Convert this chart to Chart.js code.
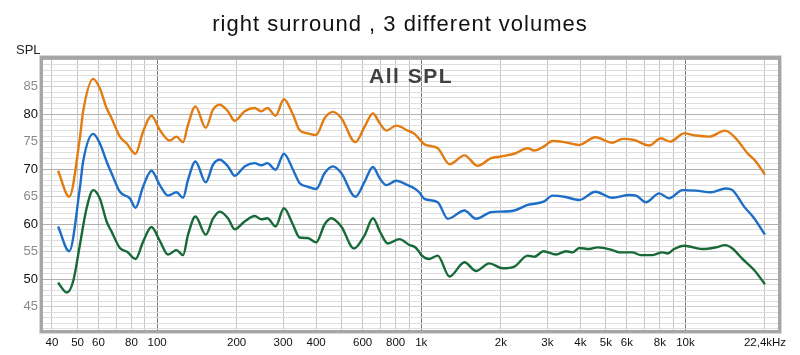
<!DOCTYPE html>
<html>
<head>
<meta charset="utf-8">
<script src="https://cdn.jsdelivr.net/npm/chart.js@4/dist/chart.umd.min.js"></script>
<style>
html,body{margin:0;padding:0;background:#fff;}
#wrap{width:800px;height:355px;}
</style>
</head>
<body>
<div id="wrap"><canvas id="c" width="800" height="355"></canvas></div>
<script>
// ---- Data (frequency in Hz, SPL in dB) ----
const titleText = "right surround , 3 different volumes";
const yAxisName = "SPL";
const plotLabel = "All SPL";

const freqOrange = [42.2,46.5,51,52.5,57.3,60.7,64.4,67.2,72.3,76.6,82.9,88.5,95.2,102.4,111.7,118.4,125.4,131,139.7,152.8,162.8,172.6,185.5,196.7,214.5,234,248,261.5,281,302,327,346,372,400,431,463,498,563,610,656,695,737,804,889,943,978,1028,1154,1279,1457,1635,1838,2005,2250,2527,2680,2905,3140,3478,3963,4557,5297,5780,6397,7290,8070,8750,9890,10950,12290,14130,15500,17160,18460,20000];
const splOrange  = [69.7,65.0,75.6,80.5,86.4,84.7,81.1,79.3,75.9,74.7,72.8,76.8,79.7,77.1,75.2,75.9,74.9,78.1,81.4,77.5,80.8,81.7,80.5,78.8,80.5,81.1,80.5,81.1,79.7,82.7,79.9,77.1,76.5,76.2,79.3,80.4,79.3,74.9,77.7,80.1,78.4,77.0,77.9,77.0,76.4,75.6,74.5,73.8,70.9,72.5,70.6,72.0,72.3,72.8,73.8,73.4,74.1,75.1,74.9,74.4,75.8,74.8,75.5,75.3,74.3,75.6,75.0,76.5,76.1,75.9,77.0,75.6,72.9,71.4,69.0];

const freqBlue = [42.2,46.5,51,52.5,57.3,60.7,64.4,67.2,72.3,78.9,82.9,88.5,95.2,102.4,110,118.4,125.4,131,139.7,152.8,162.8,172.6,185.5,196.7,214.5,234,248,261.5,281,302,327,346,372,400,431,463,498,563,610,656,695,737,804,889,943,978,1028,1154,1260,1457,1612,1838,2005,2250,2527,2905,3140,3478,3963,4557,5297,6125,6500,7080,7955,8680,9740,10950,12470,14210,15060,16670,18190,20000];
const splBlue  = [59.6,55.1,66.5,71.4,76.4,74.7,71.4,69.3,65.9,64.7,63.0,66.8,69.7,67.1,65.2,65.8,64.8,68.1,71.4,67.6,70.8,71.7,70.5,68.8,70.5,71.1,70.7,71.1,69.9,72.8,69.9,67.5,66.8,66.4,69.3,70.5,69.3,65.0,67.7,70.4,68.4,67.1,67.9,67.1,66.5,65.9,64.6,64.0,61.0,62.5,61.0,62.2,62.3,62.5,63.5,64.1,65.2,65.0,64.4,65.9,64.8,65.3,65.2,64.0,65.6,64.7,66.2,66.1,65.8,66.5,66.2,63.2,61.1,58.1];

const freqGreen = [42.2,45.5,48.1,51,54.1,57.3,60.7,64.4,67.2,72.3,77,82.9,88.5,95.2,102.4,110,118.4,125.4,131,139.7,152.8,162.8,172.6,185.5,196.7,214.5,234,248,261.5,281,302,327,346,372,400,431,456,498,556,610,656,700,747,827,903,943,978,1000,1074,1154,1279,1457,1612,1810,2033,2250,2527,2680,2905,3236,3530,3740,3963,4323,4648,5297,5617,6290,6781,7503,8185,8550,9060,9890,11600,13030,14130,15060,16430,18190,20000];
const splGreen  = [49.4,47.6,49.6,56.2,62.9,66.2,64.7,60.5,58.7,55.7,55.0,53.7,56.8,59.5,57.0,54.5,55.3,54.4,58.1,61.4,58.1,61.0,62.3,61.1,59.1,60.5,61.5,60.9,61.1,59.6,62.9,59.9,57.6,57.5,56.7,60.0,61.1,59.6,55.6,58.0,61.1,58.5,56.5,57.3,56.2,55.9,55.1,54.4,53.7,54.3,50.5,53.1,51.5,52.9,52.0,52.3,54.3,54.1,55.1,54.5,55.1,54.9,55.7,55.5,55.8,55.3,54.9,54.9,54.4,54.4,54.9,54.7,55.5,56.1,55.5,55.8,56.2,55.6,53.7,51.7,49.1];

const xTickValues = [40,50,60,70,80,90,100,200,300,400,500,600,700,800,900,1000,2000,3000,4000,5000,6000,7000,8000,9000,10000,20000];
const xTickLabels = {40:"40",50:"50",60:"60",80:"80",100:"100",200:"200",300:"300",400:"400",600:"600",800:"800",1000:"1k",2000:"2k",3000:"3k",4000:"4k",5000:"5k",6000:"6k",8000:"8k",10000:"10k",20000:"22,4kHz"};
const yLabelValues = [45,50,55,60,65,70,75,80,85];

// ---- Chart ----
const toPts = (fs, vs) => fs.map((f, i) => ({x: f, y: vs[i]}));
const FONT = "Arial, 'Liberation Sans', sans-serif";

const framePlugin = {
  id: 'frame',
  afterDraw(chart) {
    const {ctx, chartArea: a} = chart;
    ctx.save();
    ctx.strokeStyle = '#a6a6a6';
    ctx.lineWidth = 3;
    ctx.strokeRect(a.left - 1.5, a.top - 1.5, a.right - a.left + 3, a.bottom - a.top + 3);
    ctx.strokeStyle = '#d8d8d8';
    ctx.lineWidth = 1;
    ctx.strokeRect(a.left - 3.5, a.top - 3.5, a.right - a.left + 7, a.bottom - a.top + 7);
    // texts
    ctx.fillStyle = '#111';
    ctx.font = "22px " + FONT;
    ctx.letterSpacing = '1px';
    ctx.textAlign = 'center';
    ctx.textBaseline = 'alphabetic';
    ctx.fillText(titleText, 400, 31);
    ctx.letterSpacing = '0px';
    ctx.font = "13px " + FONT;
    ctx.textAlign = 'left';
    ctx.fillStyle = '#222';
    ctx.fillText(yAxisName, 16, 54);
    ctx.font = "bold 21px " + FONT;
    ctx.letterSpacing = '1.5px';
    ctx.textAlign = 'center';
    ctx.fillStyle = '#404040';
    ctx.fillText(plotLabel, 411, 83);
    ctx.restore();
  }
};

new Chart(document.getElementById('c'), {
  type: 'line',
  data: {
    datasets: [
      {data: toPts(freqOrange, splOrange), borderColor: '#e27c12'},
      {data: toPts(freqBlue, splBlue), borderColor: '#1c6ec6'},
      {data: toPts(freqGreen, splGreen), borderColor: '#176a38'}
    ].map(d => Object.assign(d, {borderWidth: 2.4, pointRadius: 0, fill: false, tension: 0.4, cubicInterpolationMode: 'monotone'}))
  },
  options: {
    responsive: false,
    animation: false,
    devicePixelRatio: 1,
    layout: {padding: {top: 59, right: 22, left: 0, bottom: 0}},
    plugins: {legend: {display: false}, tooltip: {enabled: false}, title: {display: false}},
    scales: {
      x: {
        type: 'logarithmic',
        min: 37,
        max: 22400,
        afterBuildTicks(scale) { scale.ticks = xTickValues.map(v => ({value: v})); },
        afterFit(scale) { scale.height = 25; },
        border: {display: false},
        grid: {
          drawTicks: false,
          color: ctx => {
            const v = ctx.tick && ctx.tick.value;
            return (v === 100 || v === 1000 || v === 10000) ? '#7c7c7c' : '#c4c4c4';
          },
          lineWidth: 1
        },
        ticks: {
          autoSkip: false, maxRotation: 0, padding: 6,
          color: '#111',
          font: {family: FONT, size: 11.5},
          callback: v => xTickLabels[v] !== undefined ? xTickLabels[v] : ''
        }
      },
      y: {
        min: 40.8,
        max: 90,
        afterBuildTicks(scale) {
          const t = [];
          for (let v = 41; v <= 90; v++) t.push({value: v});
          scale.ticks = t;
        },
        afterFit(scale) { scale.width = 43; },
        border: {display: false},
        grid: {
          drawTicks: false,
          color: ctx => {
            const v = ctx.tick && ctx.tick.value;
            if (v % 10 === 0) return '#b0b0b0';
            if (v % 5 === 0) return '#cdcdcd';
            return '#dedede';
          },
          lineWidth: 1
        },
        ticks: {
          autoSkip: false, padding: 5,
          font: {family: FONT, size: 13},
          color: ctx => (ctx.tick && ctx.tick.value % 10 === 0) ? '#111' : '#8a8a8a',
          callback: v => yLabelValues.includes(v) ? String(v) : ''
        }
      }
    }
  },
  plugins: [framePlugin]
});
</script>
</body>
</html>
